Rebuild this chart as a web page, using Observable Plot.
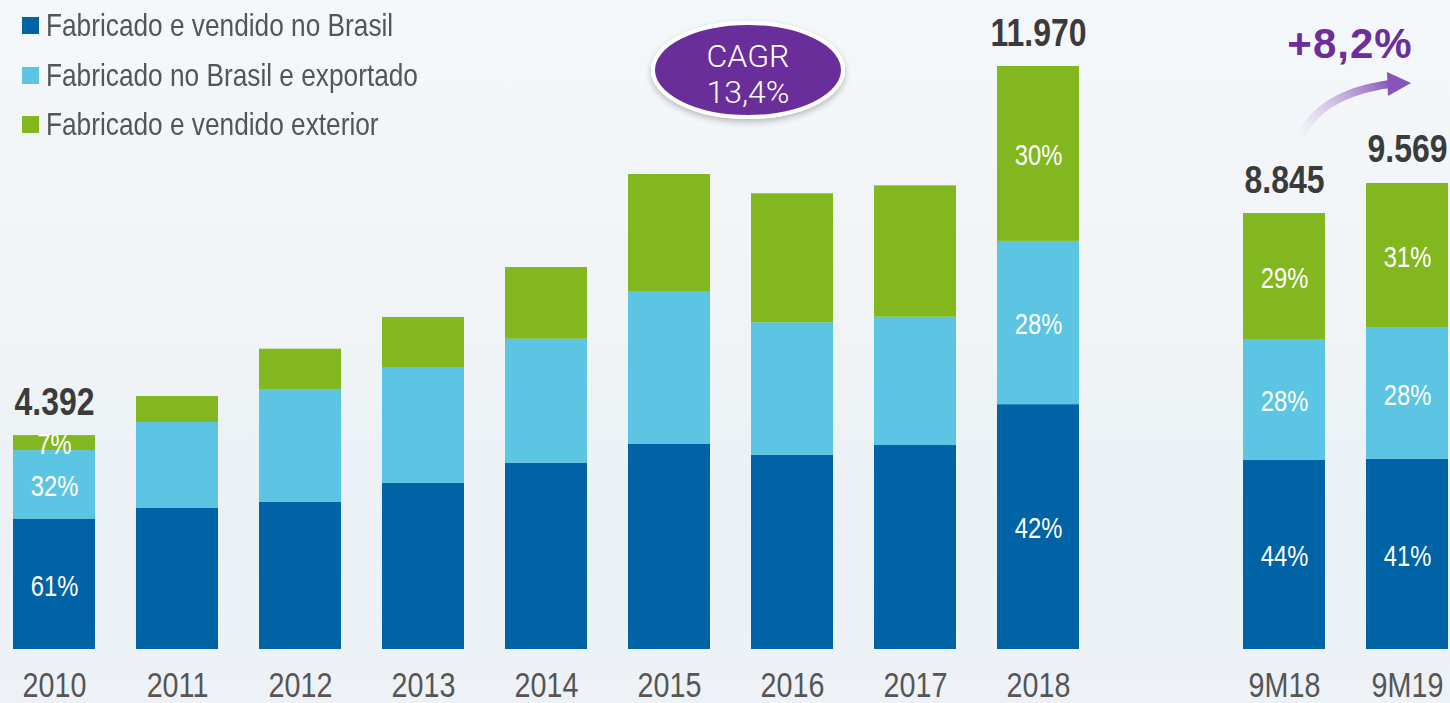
<!DOCTYPE html>
<html>
<head>
<meta charset="utf-8">
<script src="https://cdn.jsdelivr.net/npm/d3@7"></script>
<script src="https://cdn.jsdelivr.net/npm/@observablehq/plot@0.6"></script>
<style>
  html, body { margin: 0; padding: 0; }
  body {
    width: 1450px; height: 703px; overflow: hidden; position: relative;
    background: linear-gradient(180deg, #f5f8fa 0%, #f0f4f7 45%, #eaf0f4 75%, #eef2f6 100%);
    font-family: "Liberation Sans", Arial, sans-serif;
  }
  #chart { position: absolute; left: 0; top: 0; }
  #legend { position: absolute; left: 22px; top: 1px; }
  .row { display: flex; align-items: center; height: 49.5px; font-size: 32px; color: #555; white-space: nowrap; }
  .sw { width: 17px; height: 17px; margin-right: 7px; flex: none; }
  .row span { display: inline-block; transform: scaleX(0.82); transform-origin: left center; }
</style>
</head>
<body>
<div id="chart"></div>
<div id="legend"></div>
<script>
// ---- data ----
const periods = ["2010","2011","2012","2013","2014","2015","2016","2017","2018"," ","9M18","9M19"];
const seriesNames = ["Fabricado e vendido no Brasil","Fabricado no Brasil e exportado","Fabricado e vendido exterior"];
const seriesColors = ["#0063a6","#5bc5e3","#82b71f"];
const domestic = [2679, 2895, 3018, 3408, 3825, 4209, 3989, 4188, 5027, null, 3880, 3907];
const exported = [1405, 1766, 2306, 2367, 2546, 3141, 2718, 2634, 3352, null, 2484, 2690];
const abroad   = [ 308,  534,  842, 1041, 1472, 2402, 2649, 2698, 3591, null, 2587, 2971];
const totalLabels = ["4.392","","","","","","","","11.970","","8.845","9.569"];
const pctDomestic = ["61%","","","","","","","","42%","","44%","41%"];
const pctExported = ["32%","","","","","","","","28%","","28%","28%"];
const pctAbroad   = ["7%","","","","","","","","30%","","29%","31%"];
const cagrText = ["CAGR","13,4%"];
const growthText = "+8,2%";

// ---- table ----
const rows = [];
const seriesValues = [domestic, exported, abroad];
const seriesPcts = [pctDomestic, pctExported, pctAbroad];
periods.forEach((p, i) => {
  if (domestic[i] == null) return;
  seriesNames.forEach((s, j) => rows.push({period: p, series: s, value: seriesValues[j][i], label: seriesPcts[j][i]}));
});
const totals = periods.map((p, i) => ({period: p, total: (domestic[i]||0)+(exported[i]||0)+(abroad[i]||0), label: totalLabels[i]}))
  .filter(d => d.label);

const font = '"Liberation Sans", Arial, sans-serif';
const lightFont = 'Roboto, "Liberation Sans", Arial, sans-serif';

const plot = Plot.plot({
  width: 1450, height: 703,
  marginTop: 66, marginBottom: 54, marginLeft: 0, marginRight: 0,
  style: {background: "transparent", fontFamily: font, overflow: "visible"},
  x: {domain: periods, range: [-28, 1489], padding: 0.333, label: null},
  y: {domain: [0, 11970], axis: null},
  color: {domain: seriesNames, range: seriesColors},
  marks: [
    Plot.barY(rows, {x: "period", y: "value", fill: "series", order: seriesNames}),
    Plot.text(rows, Plot.stackY({x: "period", y: "value", z: "series", order: seriesNames, text: "label",
      fill: "white", fontSize: 29, dy: 2})),
    Plot.text(totals, {x: "period", y: "total", text: "label", dy: -21, lineAnchor: "bottom",
      fontSize: 39, fontWeight: "bold", fill: "#3b3b3b"}),
    Plot.axisX({tickSize: 0, tickPadding: 23, fontSize: 35, color: "#555", label: null})
  ]
});
document.getElementById("chart").appendChild(plot);

// condense the library's texts (the reference uses a condensed face)
d3.select(plot).selectAll("text").each(function() {
  const t = this.getAttribute("transform");
  if (t) this.setAttribute("transform", t + " scale(0.82,1)");
  else {
    const x = +(this.getAttribute("x") || 0), y = +(this.getAttribute("y") || 0);
    this.removeAttribute("x"); this.removeAttribute("y");
    this.setAttribute("transform", `translate(${x},${y}) scale(0.82,1)`);
  }
});

// legend
const leg = d3.select("#legend");
seriesNames.forEach((s, j) => {
  const r = leg.append("div").attr("class", "row");
  r.append("div").attr("class", "sw").style("background", seriesColors[j]);
  r.append("span").text(s);
});

// annotations
const svg = d3.select(plot);
const defs = svg.append("defs");
const sh = defs.append("filter").attr("id", "sh").attr("x", "-20%").attr("y", "-20%").attr("width", "140%").attr("height", "150%");
sh.append("feDropShadow").attr("dx", 0).attr("dy", 3).attr("stdDeviation", 3).attr("flood-color", "#000").attr("flood-opacity", 0.25);
const g = defs.append("linearGradient").attr("id", "arrowGrad").attr("gradientUnits", "userSpaceOnUse")
  .attr("x1", 1300).attr("y1", 138).attr("x2", 1392).attr("y2", 84);
g.append("stop").attr("offset", "0%").attr("stop-color", "#b99ad6").attr("stop-opacity", 0);
g.append("stop").attr("offset", "100%").attr("stop-color", "#8753b8").attr("stop-opacity", 1);

svg.append("ellipse").attr("cx", 748).attr("cy", 70).attr("rx", 95).attr("ry", 47)
  .attr("fill", "#6b2e9a").attr("stroke", "white").attr("stroke-width", 4).attr("filter", "url(#sh)");
svg.append("text").attr("x", 748).attr("y", 67).attr("text-anchor", "middle").attr("fill", "white")
  .attr("font-size", 32).attr("font-weight", 300).attr("font-family", lightFont).text(cagrText[0]);
svg.append("text").attr("x", 748).attr("y", 103).attr("text-anchor", "middle").attr("fill", "white")
  .attr("font-size", 32).attr("font-weight", 300).attr("font-family", lightFont).text(cagrText[1]);

svg.append("path").attr("d", "M1299,140 Q1318,94 1390,84").attr("fill", "none")
  .attr("stroke", "url(#arrowGrad)").attr("stroke-width", 8);
svg.append("path").attr("d", "M1387,72 L1411,83 L1388,96 Z").attr("fill", "#8753b8");
svg.append("text").attr("x", 1350).attr("y", 58).attr("text-anchor", "middle").attr("fill", "#6b2e9a")
  .attr("font-size", 42).attr("font-weight", "bold").attr("letter-spacing", 1).attr("font-family", font).text(growthText);
</script>
</body>
</html>
